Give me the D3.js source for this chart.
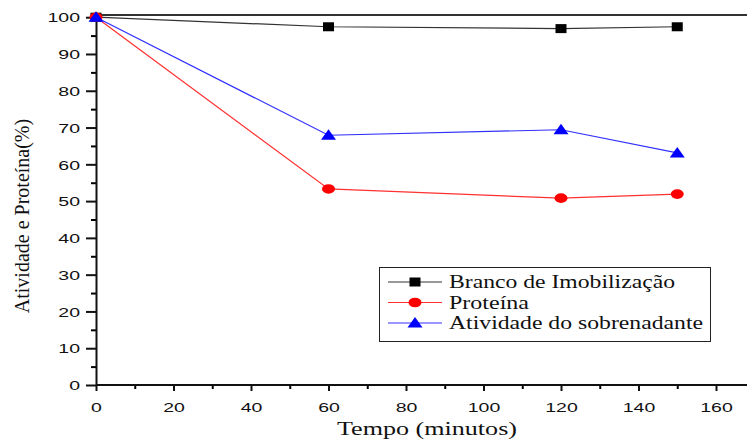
<!DOCTYPE html>
<html>
<head>
<meta charset="utf-8">
<script src="https://cdn.jsdelivr.net/npm/d3@7"></script>
<style>
  body { margin: 0; background: #fff; }
  svg { display: block; }
</style>
</head>
<body>
<div id="chart"></div>
<script>
// data
const tempos = [0, 60, 120, 150];
const branco = [100, 97.4, 96.9, 97.4];
const proteina = [100, 53.3, 50.8, 51.9];
const atividade = [100, 67.9, 69.4, 63.1];
const seriesNames = ['Branco de Imobilização', 'Proteína', 'Atividade do sobrenadante'];
const xTicks = [0, 20, 40, 60, 80, 100, 120, 140, 160];
const yTicks = [0, 10, 20, 30, 40, 50, 60, 70, 80, 90, 100];

const width = 747, height = 439;
const stretch = 1.5; // the original picture is stretched sideways

const svg = d3.select('#chart').append('svg')
  .attr('width', width)
  .attr('height', height);

const x = d3.scaleLinear().domain([0, 170]).range([96, 96 + 170 * 3.875]);
const y = d3.scaleLinear().domain([0, 100.6]).range([385, 15]);

const series = [
  {name: seriesNames[0], values: branco, line: '#333', fill: '#000', shape: 'square'},
  {name: seriesNames[1], values: proteina, line: '#ff3030', fill: '#ff0000', shape: 'circle'},
  {name: seriesNames[2], values: atividade, line: '#3030ff', fill: '#0000ff', shape: 'triangle'}
];

// top frame line
svg.append('line')
  .attr('x1', x(0)).attr('x2', width)
  .attr('y1', y(100.6)).attr('y2', y(100.6))
  .attr('stroke', '#333').attr('stroke-width', 2);

// minor ticks
svg.append('g')
  .attr('transform', `translate(0,${y(0)})`)
  .call(d3.axisBottom(x).tickValues(d3.range(10, 170, 20)).tickSize(4).tickFormat(''))
  .call(g => g.select('.domain').remove())
  .selectAll('line').attr('stroke-width', 2);

svg.append('g')
  .attr('transform', `translate(${x(0)},0)`)
  .call(d3.axisLeft(y).tickValues(d3.range(5, 100, 10)).tickSize(5).tickFormat(''))
  .call(g => g.select('.domain').remove())
  .selectAll('line').attr('stroke-width', 2);

// main axes
const xAxis = svg.append('g')
  .attr('transform', `translate(0,${y(0)})`)
  .call(d3.axisBottom(x).tickValues(xTicks).tickSize(6).tickSizeOuter(0).tickFormat(d3.format('d')));

const yAxis = svg.append('g')
  .attr('transform', `translate(${x(0)},0)`)
  .call(d3.axisLeft(y).tickValues(yTicks).tickSize(10).tickSizeOuter(0).tickFormat(d3.format('d')));

[xAxis, yAxis].forEach(g => {
  g.select('.domain').attr('stroke', '#111').attr('stroke-width', 2);
  g.selectAll('.tick line').attr('stroke', '#111').attr('stroke-width', 2);
  g.selectAll('text')
    .attr('font-family', '"Liberation Sans", Arial, sans-serif')
    .attr('font-size', 13)
    .attr('fill', '#111');
});
// d3 puts the axis range end past the svg; drop it to the visible edge
xAxis.select('.domain').attr('d', `M${x(0)},0H${width}`);

xAxis.selectAll('text')
  .attr('y', 0).attr('dy', 0)
  .attr('transform', `translate(0,27) scale(${stretch},1)`);
yAxis.selectAll('text')
  .attr('x', -16 / stretch)
  .attr('dy', '0.36em')
  .attr('transform', `scale(${stretch},1)`);

// lines
const line = d3.line()
  .x((d, i) => x(tempos[i]))
  .y(d => y(d));

series.forEach(s => {
  svg.append('path')
    .datum(s.values)
    .attr('fill', 'none')
    .attr('stroke', s.line)
    .attr('stroke-width', 1.2)
    .attr('d', line);
});

// markers
function marker(g, shape, fill) {
  if (shape === 'square') {
    g.append('rect').attr('x', -5.5).attr('y', -4.5).attr('width', 11).attr('height', 9).attr('fill', fill);
  } else if (shape === 'circle') {
    g.append('ellipse').attr('rx', 6.5).attr('ry', 4.8).attr('fill', fill);
  } else {
    g.append('path').attr('d', 'M0,-6L7.5,4.5L-7.5,4.5Z').attr('fill', fill);
  }
}

series.forEach(s => {
  svg.append('g').selectAll('g')
    .data(s.values)
    .enter()
    .append('g')
    .attr('transform', (d, i) => `translate(${x(tempos[i])},${y(d)})`)
    .each(function () { marker(d3.select(this), s.shape, s.fill); });
});

// legend
const legend = svg.append('g');
legend.append('rect')
  .attr('x', 379.5).attr('y', 267.5)
  .attr('width', 331).attr('height', 74)
  .attr('fill', '#fff')
  .attr('stroke', '#222').attr('stroke-width', 1);

const legendLengths = [226, 80, 254];
series.forEach((s, i) => {
  const row = legend.append('g').attr('transform', `translate(0,${282 + i * 20.5})`);
  row.append('line')
    .attr('x1', 388).attr('x2', 442)
    .attr('stroke', s.line).attr('stroke-width', 1.2);
  const m = row.append('g').attr('transform', 'translate(415,0)');
  marker(m, s.shape, s.fill);
  row.append('text')
    .attr('x', 449).attr('y', 6)
    .attr('font-family', '"Liberation Serif", "Times New Roman", serif')
    .attr('font-size', 18)
    .attr('textLength', legendLengths[i])
    .attr('lengthAdjust', 'spacingAndGlyphs')
    .attr('fill', '#111')
    .text(s.name);
});

// axis titles
svg.append('text')
  .attr('x', 337).attr('y', 435)
  .attr('font-family', '"Liberation Serif", "Times New Roman", serif')
  .attr('font-size', 18)
  .attr('textLength', 180)
  .attr('lengthAdjust', 'spacingAndGlyphs')
  .attr('fill', '#111')
  .text('Tempo (minutos)');

svg.append('text')
  .attr('transform', 'translate(29,216) rotate(-90)')
  .attr('text-anchor', 'middle')
  .attr('font-family', '"Liberation Serif", "Times New Roman", serif')
  .attr('font-size', 20)
  .attr('fill', '#111')
  .text('Atividade e Proteína(%)');
</script>
</body>
</html>
